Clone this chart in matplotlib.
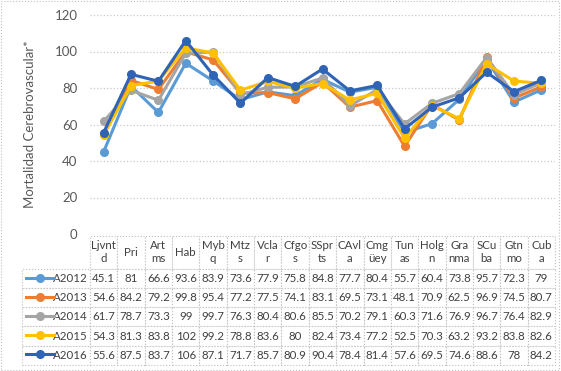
import matplotlib.pyplot as plt
from matplotlib.patches import Rectangle
from matplotlib.lines import Line2D

plt.rcParams['font.family'] = ['Lato', 'DejaVu Sans']

categories = ['Ljvntd', 'Pri', 'Artms', 'Hab', 'Mybq', 'Mtzs', 'Vclar', 'Cfgos', 'SSprts',
              'CAvla', 'Cmgüey', 'Tunas', 'Holgn', 'Granma', 'SCuba', 'Gtnmo', 'Cuba']
header_labels = ['Ljvnt\nd', 'Pri', 'Art\nms', 'Hab', 'Myb\nq', 'Mtz\ns', 'Vcla\nr', 'Cfgo\ns',
                 'SSpr\nts', 'CAvl\na', 'Cmg\nüey', 'Tun\nas', 'Holg\nn', 'Gra\nnma', 'SCu\nba',
                 'Gtn\nmo', 'Cub\na']
series_names = ['A2012', 'A2013', 'A2014', 'A2015', 'A2016']
a2012 = [45.1, 81, 66.6, 93.6, 83.9, 73.6, 77.9, 75.8, 84.8, 77.7, 80.4, 55.7, 60.4, 73.8, 95.7, 72.3, 79]
a2013 = [54.6, 84.2, 79.2, 99.8, 95.4, 77.2, 77.5, 74.1, 83.1, 69.5, 73.1, 48.1, 70.9, 62.5, 96.9, 74.5, 80.7]
a2014 = [61.7, 78.7, 73.3, 99, 99.7, 76.3, 80.4, 80.6, 85.5, 70.2, 79.1, 60.3, 71.6, 76.9, 96.7, 76.4, 82.9]
a2015 = [54.3, 81.3, 83.8, 102, 99.2, 78.8, 83.6, 80, 82.4, 73.4, 77.2, 52.5, 70.3, 63.2, 93.2, 83.8, 82.6]
a2016 = [55.6, 87.5, 83.7, 106, 87.1, 71.7, 85.7, 80.9, 90.4, 78.4, 81.4, 57.6, 69.5, 74.6, 88.6, 78, 84.2]
series = [a2012, a2013, a2014, a2015, a2016]
colors = ['#5B9BD5', '#ED7D31', '#A5A5A5', '#FFC000', '#2F63B5']

W, H = 561, 371
fig = plt.figure(figsize=(W / 100, H / 100), dpi=100)
ax_l, ax_r, ax_t, ax_b = 90, 555, 15, 234
ax = fig.add_axes([ax_l / W, (H - ax_b) / H, (ax_r - ax_l) / W, (ax_b - ax_t) / H])

x = list(range(len(categories)))
for i, (vals, c) in enumerate(zip(series, colors)):
    ax.plot(x, vals, color=c, lw=2.2, marker='o', ms=5.5, zorder=3 + i)

ax.set_xlim(-0.5, len(categories) - 0.5)
ax.set_ylim(0, 120)
ax.set_yticks(range(0, 121, 20))
ax.set_xticks([])
ax.grid(axis='y', color='#C8C8C8', ls=':', lw=0.9)
ax.set_axisbelow(True)
for s in ax.spines.values():
    s.set_visible(False)
ax.tick_params(axis='y', length=0, pad=9, labelsize=9.5, labelcolor='#595959')
ax.set_ylabel('Mortalidad Cerebrovascular*', fontsize=9.5, color='#595959', labelpad=13)

# data table under the plot
cell_text = [[name] + ['{:g}'.format(v) for v in vals] for name, vals in zip(series_names, series)]
tab_l, tab_t, tab_b = 22, 236, 365
ax_w, ax_h = ax_r - ax_l, ax_b - ax_t
label_w = ax_l - tab_l
col_w = ax_w / len(categories)
table = ax.table(cellText=cell_text, colLabels=[''] + header_labels,
                 colWidths=[label_w / ax_w] + [col_w / ax_w] * len(categories),
                 cellLoc='center',
                 bbox=[(tab_l - ax_l) / ax_w, (ax_b - tab_b) / ax_h,
                       (ax_r - tab_l) / ax_w, (tab_b - tab_t) / ax_h])
table.auto_set_font_size(False)
table.set_fontsize(8.3)
head_h, row_h = 32, 19
for (r, c), cell in table.get_celld().items():
    cell.set_edgecolor('#BFBFBF')
    cell.set_linestyle(':')
    cell.set_linewidth(0.8)
    cell.get_text().set_color('#404040')
    cell.set_height(head_h if r == 0 else row_h)
    if r == 0 and c == 0:
        cell.visible_edges = 'open'
    if c == 0 and r > 0:
        cell.get_text().set_ha('right')
        cell._loc = 'right'
        cell.PAD = 0.03

# legend keys inside the row label cells
for i, c in enumerate(colors):
    yc = tab_t + head_h + row_h * (i + 0.5)
    ya = (ax_b - yc) / ax_h
    x0 = (26 - ax_l) / ax_w
    x1 = (54 - ax_l) / ax_w
    ax.add_line(Line2D([x0, x1], [ya, ya], transform=ax.transAxes, color=c, lw=2.2, clip_on=False))
    ax.add_line(Line2D([(x0 + x1) / 2], [ya], transform=ax.transAxes, color=c, marker='o', ms=5.5,
                       clip_on=False))

fig.patches.append(Rectangle((0.002, 0.003), 0.995, 0.994, transform=fig.transFigure, fill=False,
                             ec='#BFBFBF', ls=':', lw=0.8))

fig.savefig('out.png', dpi=100)
